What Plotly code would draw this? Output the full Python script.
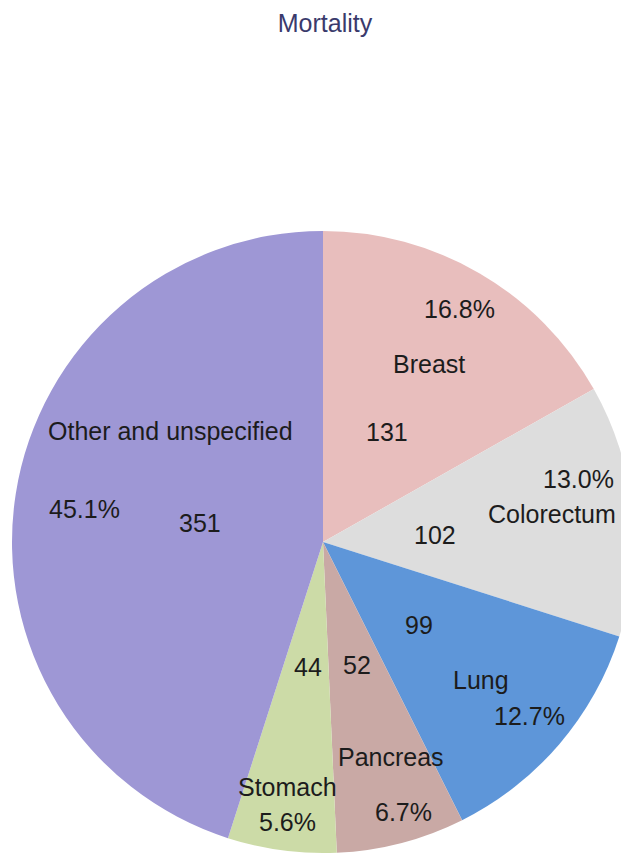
import math
import plotly.graph_objects as go

# ---- data ----
categories = ["Breast", "Colorectum", "Lung", "Pancreas", "Stomach", "Other and unspecified"]
deaths = [131, 102, 99, 52, 44, 351]
pct_labels = ["16.8%", "13.0%", "12.7%", "6.7%", "5.6%", "45.1%"]

# ---- style ----
slice_colors = ["#E8BEBD", "#DDDDDD", "#5E96D9", "#C9A9A5", "#CCDBA7", "#9E97D5"]
# label layout (radius as fraction of pie radius, angle shift in degrees)
value_r = [0.41, 0.36, 0.41, 0.41, 0.405, 0.40]
name_r = [0.667, 0.742, 0.675, 0.726, 0.795, 0.607]
name_da = [0.5, -1.2, 0.5, -3.0, 0.7, 27.0]
pct_r = [0.868, 0.847, 0.869, 0.906, 0.907, 0.773]
pct_da = [0.0, -8.0, -0.4, -2.1, -0.3, -0.9]
value_da = [0.0, 2.4, 0.3, -0.7, -0.6, 0.1]

FONT = "Liberation Sans, Arial, sans-serif"
LABEL_SIZE = 25
LABEL_COLOR = "#1c1c1c"

W, H = 640, 859
ML, MR, MT, MB = 12, 6, 231, 6

fig = go.Figure(
    go.Pie(
        labels=categories,
        values=deaths,
        sort=False,
        direction="clockwise",
        rotation=0,
        marker=dict(colors=slice_colors, line=dict(width=0)),
        textinfo="none",
        hoverinfo="label+value+percent",
        showlegend=False,
        domain=dict(x=[0, 1], y=[0, 1]),
    )
)

total = sum(deaths)
annotations = []
cum = 0.0
for i, v in enumerate(deaths):
    mid = (cum + v / 2) / total * 360.0
    cum += v
    for text, r, da in (
        (str(v), value_r[i], value_da[i]),
        (categories[i], name_r[i], name_da[i]),
        (pct_labels[i], pct_r[i], pct_da[i]),
    ):
        th = math.radians(mid + da)
        annotations.append(
            dict(
                text=text,
                x=0.5 + 0.5 * r * math.sin(th),
                y=0.5 + 0.5 * r * math.cos(th),
                xref="paper",
                yref="paper",
                xanchor="center",
                yanchor="middle",
                showarrow=False,
                font=dict(family=FONT, size=LABEL_SIZE, color=LABEL_COLOR),
            )
        )

fig.update_layout(
    width=W,
    height=H,
    margin=dict(l=ML, r=MR, t=MT, b=MB),
    paper_bgcolor="white",
    plot_bgcolor="white",
    title=dict(
        text="Mortality",
        x=325 / W,
        xanchor="center",
        y=1 - 23 / H,
        yanchor="middle",
        font=dict(family=FONT, size=25, color="#3a3a6c"),
    ),
    annotations=annotations,
)

fig.write_html(
    "out.html",
    config={"displayModeBar": False},
    post_script="document.body.style.margin='0';document.body.style.overflow='hidden';",
)
